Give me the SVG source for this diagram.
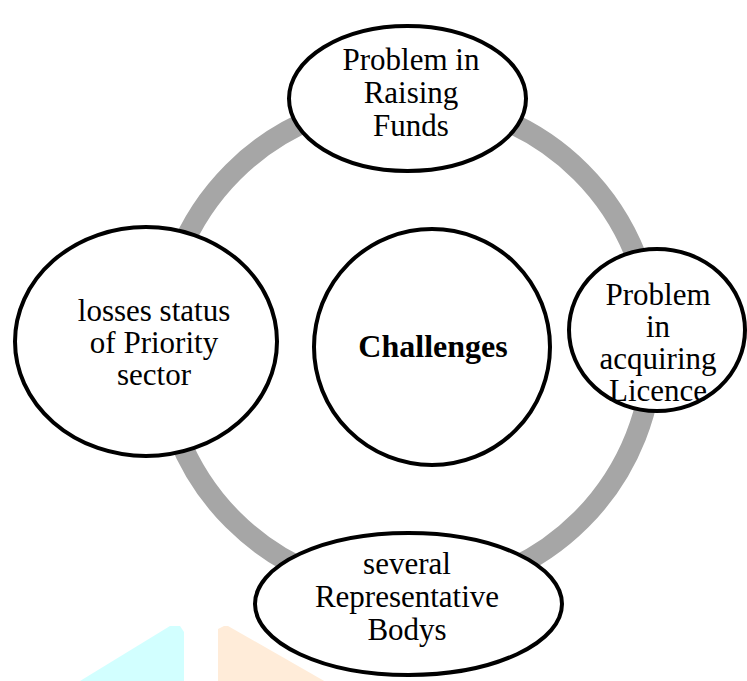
<svg xmlns="http://www.w3.org/2000/svg" width="747" height="681" viewBox="0 0 747 681">
<style>
.node{fill:#ffffff;stroke:#000000;stroke-width:4}
.t{font-family:"Liberation Serif","Times New Roman",serif;font-size:31px;fill:#000000;text-anchor:middle}
.b{font-weight:bold;font-size:32px}
</style>
<rect width="747" height="681" fill="#ffffff"/>
<g id="watermark">
<polygon points="80,681 170,626 180,626 184,632 184,681" fill="#d2ffff"/>
<polygon points="218,629 224,626 228,626 340,690 218,690" fill="#ffecd9"/>
</g>
<g id="connectors">
<circle cx="407" cy="346" r="246" fill="none" stroke="#a6a6a6" stroke-width="21"/>
</g>
<g id="center">
<circle class="node" cx="432" cy="347" r="118"/>
<text class="t b" x="433" y="357">Challenges</text>
</g>
<g id="top">
<ellipse class="node" cx="407.5" cy="98.5" rx="118.5" ry="72.5"/>
<text class="t" x="411" y="70">Problem in</text>
<text class="t" x="411" y="103">Raising</text>
<text class="t" x="411" y="136">Funds</text>
</g>
<g id="right">
<ellipse class="node" cx="657" cy="330" rx="88" ry="81"/>
<text class="t" x="658" y="305">Problem</text>
<text class="t" x="658" y="337">in</text>
<text class="t" x="658" y="369">acquiring</text>
<text class="t" x="658" y="401">Licence</text>
</g>
<g id="bottom">
<ellipse class="node" cx="408.5" cy="604" rx="153.5" ry="71"/>
<text class="t" x="407" y="574">several</text>
<text class="t" x="407" y="607">Representative</text>
<text class="t" x="407" y="640">Bodys</text>
</g>
<g id="left">
<ellipse class="node" cx="146" cy="341.5" rx="131" ry="114.5"/>
<text class="t" x="154" y="321">losses status</text>
<text class="t" x="154" y="353">of Priority</text>
<text class="t" x="154" y="385">sector</text>
</g>
</svg>
